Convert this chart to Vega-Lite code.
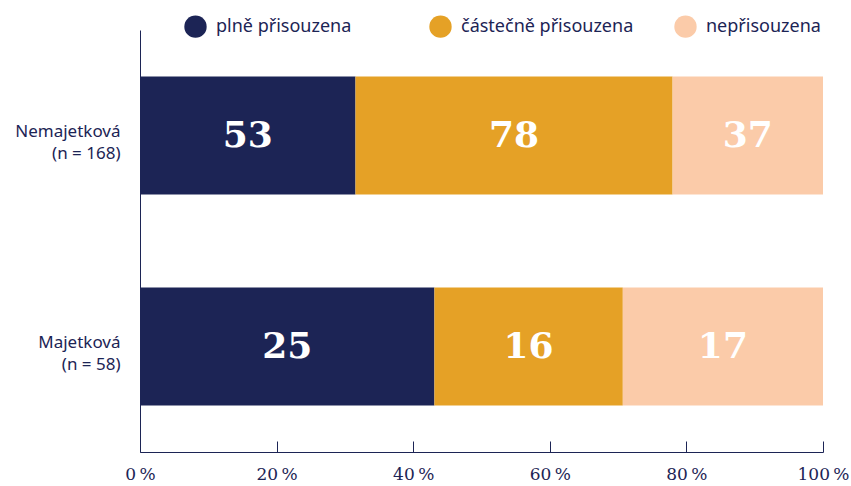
{
  "$schema": "https://vega.github.io/schema/vega-lite/v6.json",
  "width": 683,
  "height": 422,
  "autosize": {"type": "none"},
  "padding": {"left": 140, "top": 30, "right": 28, "bottom": 34},
  "background": "white",
  "config": {"view": {"stroke": null}, "font": "Noto Sans"},
  "data": {
    "values": [
      {"skupina": "Nemajetková|(n = 168)", "kategorie": "plně přisouzena", "poradi": 1, "pocet": 53},
      {"skupina": "Nemajetková|(n = 168)", "kategorie": "částečně přisouzena", "poradi": 2, "pocet": 78},
      {"skupina": "Nemajetková|(n = 168)", "kategorie": "nepřisouzena", "poradi": 3, "pocet": 37},
      {"skupina": "Majetková|(n = 58)", "kategorie": "plně přisouzena", "poradi": 1, "pocet": 25},
      {"skupina": "Majetková|(n = 58)", "kategorie": "částečně přisouzena", "poradi": 2, "pocet": 16},
      {"skupina": "Majetková|(n = 58)", "kategorie": "nepřisouzena", "poradi": 3, "pocet": 17}
    ]
  },
  "transform": [
    {"stack": "pocet", "groupby": ["skupina"], "sort": [{"field": "poradi", "order": "ascending"}], "offset": "normalize", "as": ["x0", "x1"]},
    {"calculate": "(datum.x0 + datum.x1) / 2", "as": "xmid"}
  ],
  "encoding": {
    "y": {
      "field": "skupina",
      "type": "nominal",
      "sort": ["Nemajetková|(n = 168)", "Majetková|(n = 58)"],
      "scale": {"paddingInner": 0.44, "paddingOuter": 0.22},
      "axis": {
        "title": null,
        "domain": true,
        "domainColor": "#1c2455",
        "domainWidth": 1,
        "ticks": false,
        "labelPadding": 20,
        "labelOffset": -4,
        "labelFont": "Noto Sans",
        "labelFontSize": 17,
        "labelColor": "#1c2455",
        "labelLineHeight": 22,
        "labelExpr": "split(datum.label, '|')"
      }
    }
  },
  "layer": [
    {
      "mark": {"type": "bar"},
      "encoding": {
        "x": {
          "field": "x0",
          "type": "quantitative",
          "scale": {"domain": [0, 1], "nice": false},
          "axis": {
            "title": null,
            "values": [0, 0.2, 0.4, 0.6, 0.8, 1],
            "grid": false,
            "domainColor": "#1c2455",
            "tickColor": "#1c2455",
            "tickSize": -11,
            "labelPadding": 25,
            "labelFont": "DejaVu Serif",
            "labelFontSize": 17,
            "labelColor": "#1c2455",
            "labelFlush": false,
            "labelExpr": "format(datum.value * 100, 'd') + '\u2009%'"
          }
        },
        "x2": {"field": "x1"},
        "color": {
          "field": "kategorie",
          "type": "nominal",
          "scale": {
            "domain": ["plně přisouzena", "částečně přisouzena", "nepřisouzena"],
            "range": ["#1c2455", "#e5a126", "#fbcba9"]
          },
          "legend": {
            "title": null,
            "orient": "none",
            "legendX": 44,
            "legendY": -15,
            "direction": "horizontal",
            "columns": 3,
            "gridAlign": "all",
            "columnPadding": 40,
            "symbolType": "circle",
            "symbolSize": 500,
            "symbolStrokeWidth": 0,
            "symbolOpacity": 1,
            "labelOffset": 9,
            "labelFont": "Noto Sans",
            "labelFontSize": 18,
            "labelColor": "#1c2455",
            "labelLimit": 300
          }
        }
      }
    },
    {
      "mark": {"type": "text", "color": "white", "font": "DejaVu Serif", "fontSize": 36, "fontWeight": "bold", "align": "center", "baseline": "middle"},
      "encoding": {
        "x": {"field": "xmid", "type": "quantitative"},
        "text": {"field": "pocet", "type": "quantitative"}
      }
    }
  ]
}
